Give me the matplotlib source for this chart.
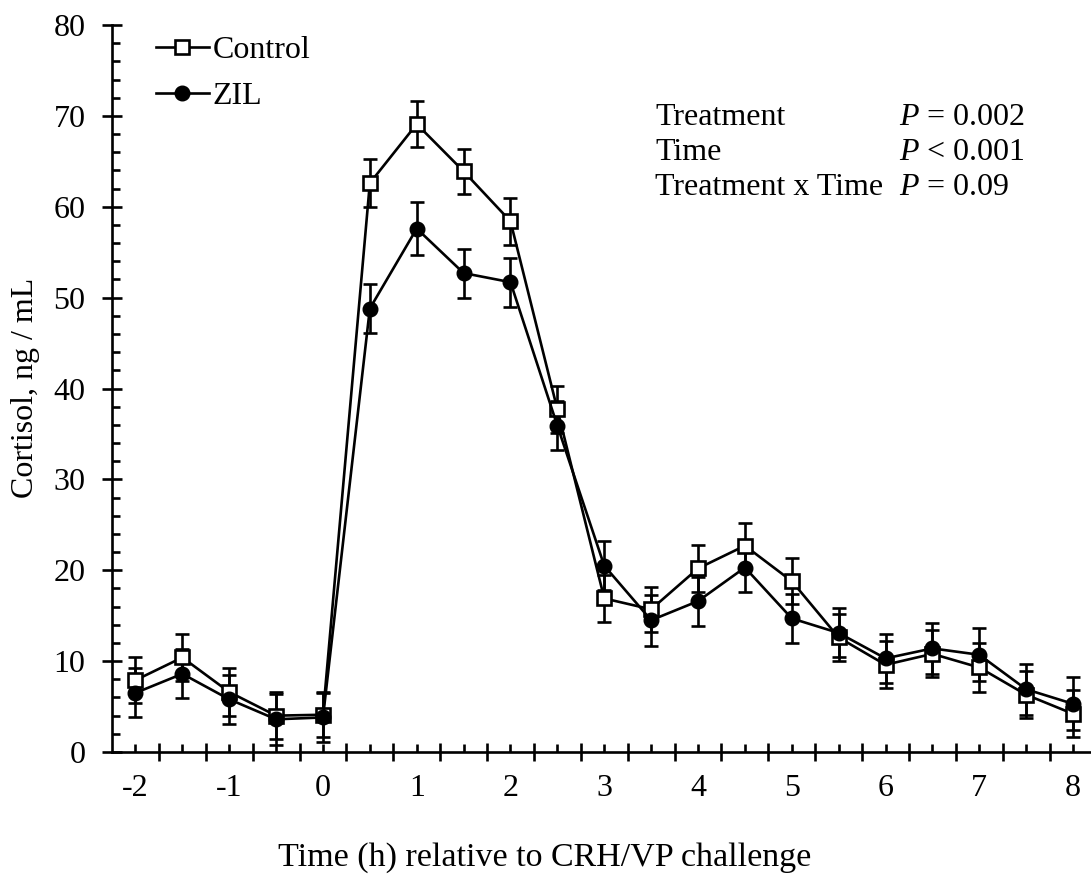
import matplotlib
matplotlib.use('Agg')
import matplotlib.pyplot as plt
from matplotlib.ticker import FixedLocator, MultipleLocator
import numpy as np

# time points (h) relative to CRH/VP challenge
time = [-2, -1.5, -1, -0.5, 0, 0.5, 1, 1.5, 2, 2.5, 3, 3.5, 4, 4.5, 5,
        5.5, 6, 6.5, 7, 7.5, 8]

control = [7.9, 10.4, 6.6, 4.0, 4.1, 62.6, 69.1, 63.9, 58.4, 37.7, 16.9,
           15.7, 20.2, 22.7, 18.8, 12.6, 9.6, 10.8, 9.3, 6.3, 4.2]
control_err = [2.5, 2.6, 2.6, 2.6, 2.5, 2.6, 2.5, 2.5, 2.6, 2.6, 2.6,
               2.5, 2.6, 2.5, 2.5, 2.6, 2.6, 2.6, 2.7, 2.6, 2.6]

zil = [6.5, 8.6, 5.8, 3.6, 3.8, 48.8, 57.6, 52.7, 51.7, 35.9, 20.5,
       14.5, 16.6, 20.3, 14.7, 13.1, 10.3, 11.4, 10.7, 6.9, 5.3]
zil_err = [2.7, 2.7, 2.7, 2.8, 2.7, 2.7, 2.9, 2.7, 2.7, 2.7, 2.7,
           2.8, 2.7, 2.7, 2.7, 2.7, 2.7, 2.8, 2.9, 2.8, 2.9]

stat_names = ['Treatment', 'Time', 'Treatment x Time']
stat_values = ['$P$ = 0.002', '$P$ < 0.001', '$P$ = 0.09']

plt.rcParams['font.family'] = ['Liberation Serif', 'DejaVu Serif']
plt.rcParams['mathtext.fontset'] = 'custom'
plt.rcParams['mathtext.it'] = 'Liberation Serif:italic'
plt.rcParams['mathtext.rm'] = 'Liberation Serif'

W, H = 1091, 881
fs = 23
fig = plt.figure(figsize=(W / 100, H / 100), dpi=100)
# axes in pixel terms: left spine at 112, x axis at 752, top at 25
ax = fig.add_axes([112 / W, (H - 752) / H, (1096.5 - 112) / W, (752 - 25) / H])

lw = 1.9
eb1 = ax.errorbar(time, control, yerr=control_err, fmt='-s', color='k',
                  mfc='white', mec='k', ms=9.5, mew=1.9, lw=lw,
                  capsize=4.8, capthick=lw, elinewidth=lw,
                  clip_on=False, label='Control')
eb2 = ax.errorbar(time, zil, yerr=zil_err, fmt='-o', color='k',
                  mfc='k', mec='k', ms=10.5, lw=lw,
                  capsize=4.8, capthick=lw, elinewidth=lw,
                  clip_on=False, label='ZIL')

ax.set_xlim(-2.25, 8.25)
ax.set_ylim(0, 80)

for s in ['top', 'right']:
    ax.spines[s].set_visible(False)
for s in ['left', 'bottom']:
    ax.spines[s].set_linewidth(1.9)

# x axis: short inward ticks at each sample, crossing ticks between them
ax.xaxis.set_major_locator(FixedLocator(time))
ax.set_xticklabels([str(int(t)) if t == int(t) else '' for t in time])
ax.xaxis.set_minor_locator(FixedLocator(np.arange(-1.75, 8.0, 0.5)))
ax.tick_params(axis='x', which='major', direction='in', length=5.5,
               width=1.9, pad=16, labelsize=fs)
ax.tick_params(axis='x', which='minor', direction='inout', length=13,
               width=1.9)

ax.yaxis.set_major_locator(MultipleLocator(10))
ax.yaxis.set_minor_locator(MultipleLocator(2))
ax.tick_params(axis='y', which='major', direction='inout', length=14,
               width=1.9, pad=12, labelsize=fs)
ax.tick_params(axis='y', which='minor', direction='in', length=5.5,
               width=1.9)

fig.text(26 / W, 1 - 388 / H, 'Cortisol, ng / mL', rotation=90,
         ha='center', va='center', fontsize=fs)
fig.text(545 / W, 1 - 858 / H, 'Time (h) relative to CRH/VP challenge',
         ha='center', va='center', fontsize=fs + 1.5)

ax.legend(handles=[eb1[0], eb2[0]], labels=['Control', 'ZIL'],
          loc='upper left', bbox_to_anchor=(156 / W, 1 - 36 / H),
          bbox_transform=fig.transFigure, frameon=False, fontsize=fs,
          handlelength=1.65, handletextpad=0.12, labelspacing=0.5,
          borderpad=0, borderaxespad=0)

for i, (name, val) in enumerate(zip(stat_names, stat_values)):
    yb = 125 + 35 * i
    fig.text(655 / W, 1 - yb / H, name, ha='left', va='baseline', fontsize=fs)
    fig.text(899 / W, 1 - yb / H, val, ha='left', va='baseline', fontsize=fs)

fig.savefig('out.png', dpi=100)
